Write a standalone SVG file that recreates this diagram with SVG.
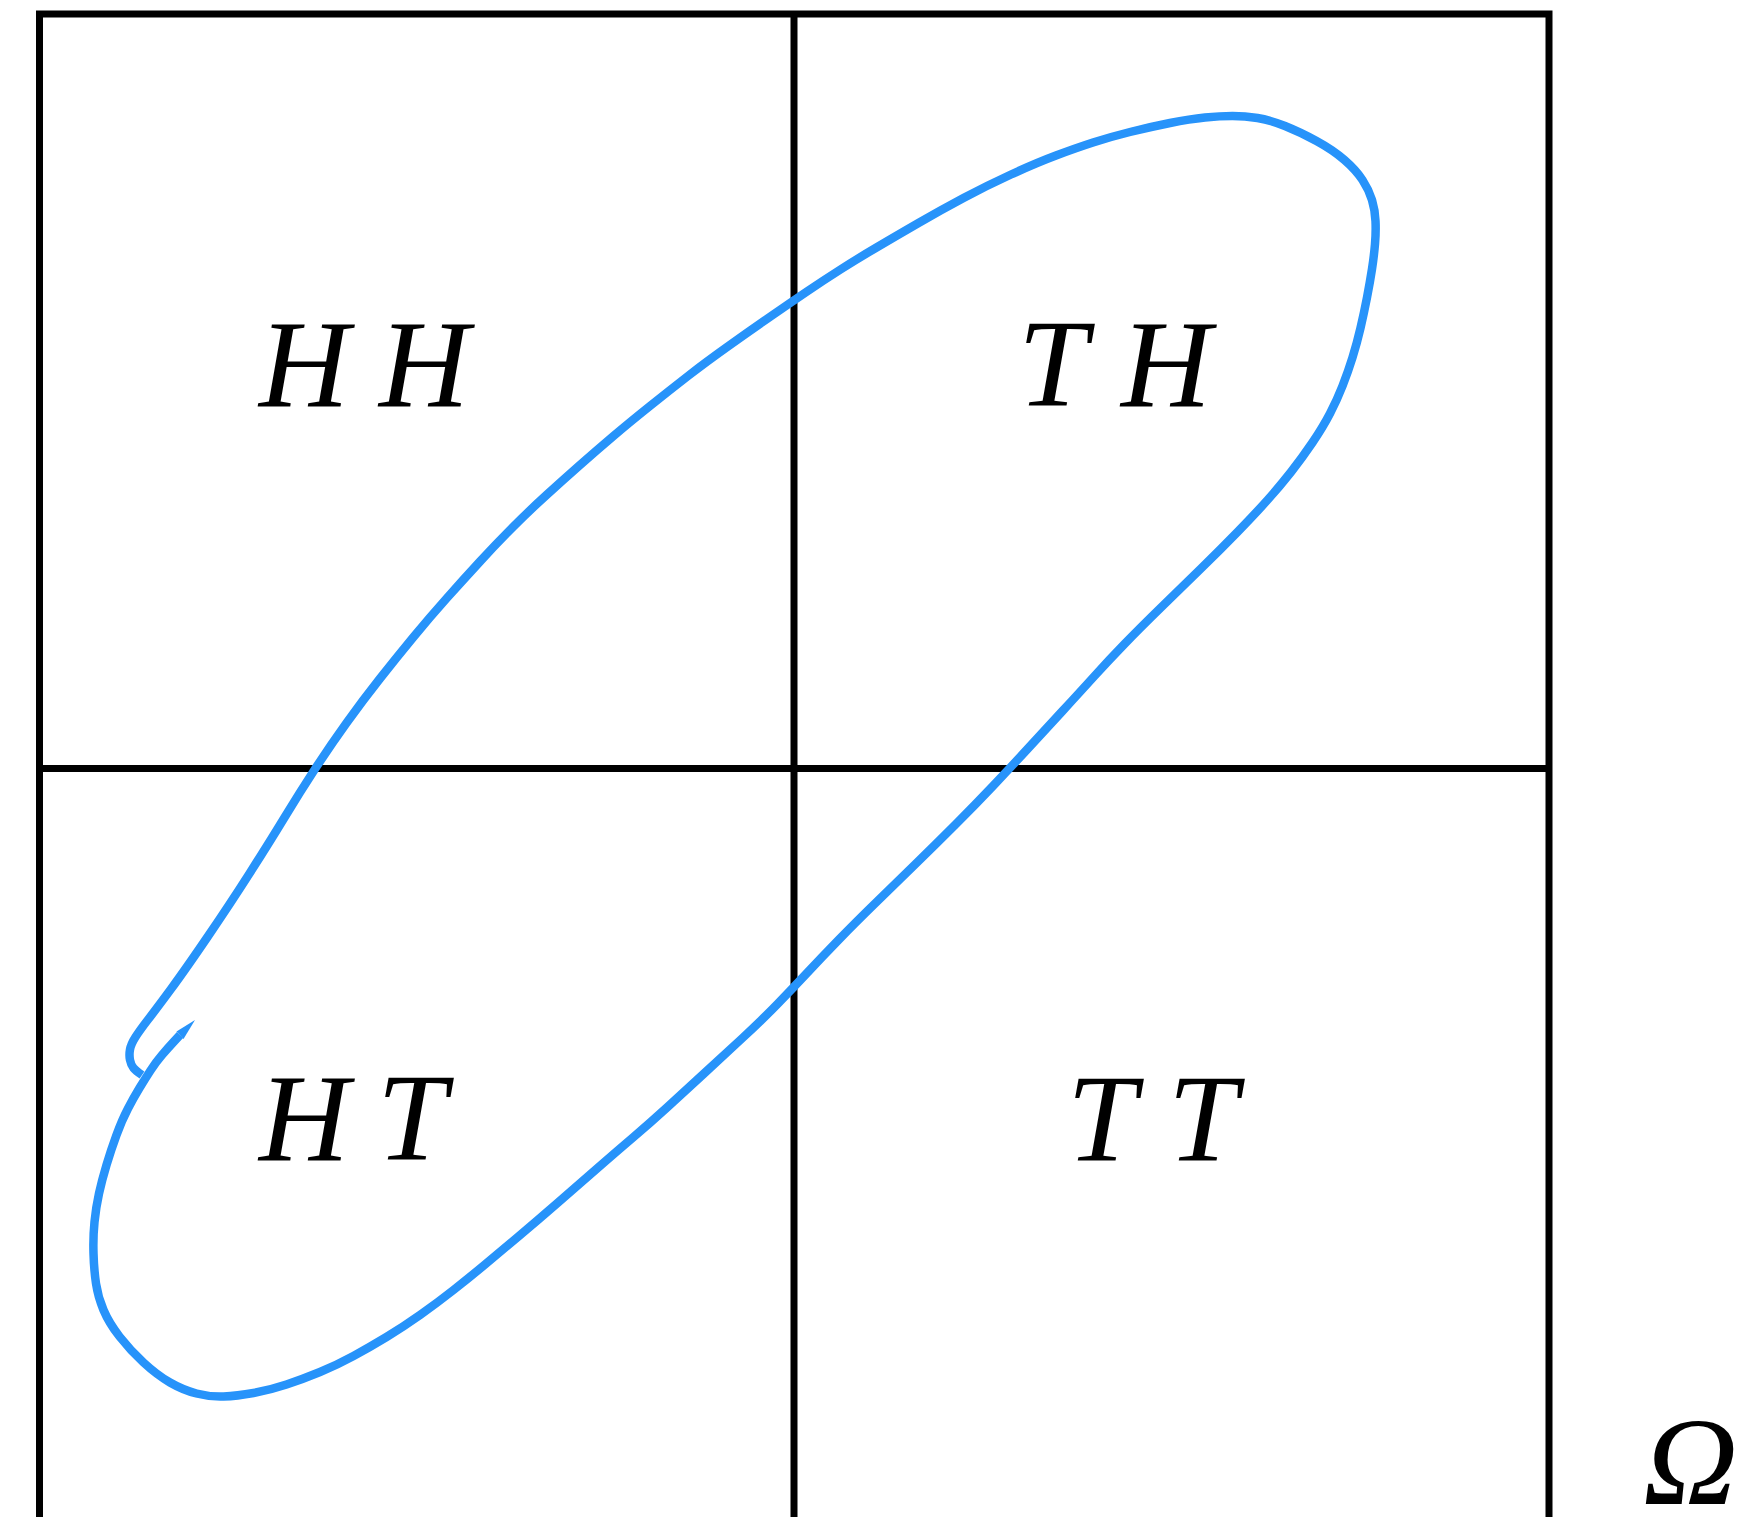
<svg xmlns="http://www.w3.org/2000/svg" width="1757" height="1517" viewBox="0 0 1757 1517">
<style>
.grid{stroke:#000;stroke-width:7;fill:none;stroke-linecap:butt}
.lbl{font-family:"Liberation Serif","Times New Roman",serif;font-style:italic;font-size:125px;fill:#000}
.curve{stroke:#2793FA;stroke-width:8.5;fill:none;stroke-linejoin:round;stroke-linecap:butt}
</style>
<rect width="1757" height="1517" fill="#fff"/>
<g id="grid">
<path class="grid" d="M39.5,1517 V14 H1549 V1517 M794,14 V1517 M39.5,768.5 H1549"/>
</g>
<g id="cell-HH"><text class="lbl" y="406"><tspan x="259">H</tspan><tspan x="379">H</tspan></text></g>
<g id="cell-TH"><text class="lbl" y="406"><tspan x="1018">T</tspan><tspan x="1121">H</tspan></text></g>
<g id="cell-HT"><text class="lbl" y="1160"><tspan x="259">H</tspan><tspan x="377">T</tspan></text></g>
<g id="cell-TT"><text class="lbl" y="1161"><tspan x="1067">T</tspan><tspan x="1168">T</tspan></text></g>
<g id="omega"><text class="lbl" x="1643" y="1504" textLength="95" lengthAdjust="spacingAndGlyphs">Ω</text></g>
<g id="connectors">
<polygon fill="#2793FA" points="195,1020 183.5,1039 176.5,1031.5"/>
<path class="curve" d="M180,1035 L174,1041.5 Q168,1048 162,1055 Q156,1062 150.5,1070.5 Q145,1079 139.5,1088 Q134,1097 128,1108.5 Q122,1120 116.5,1135 Q111,1150 106.5,1165 Q102,1180 99,1193.5 Q96,1207 94.5,1222 Q93,1237 93.5,1253.5 Q94,1270 96,1283.5 Q98,1297 103.5,1310 Q109,1323 119.5,1336.5 Q130,1350 143.5,1362.5 Q157,1375 170,1382.5 Q183,1390 196.5,1393.5 Q210,1397 223.5,1396.5 Q237,1396 253.5,1393 Q270,1390 286.5,1384.5 Q303,1379 320,1372 Q337,1365 353.5,1356 Q370,1347 386.5,1337 Q403,1327 420,1315 Q437,1303 453.5,1290 Q470,1277 485,1264.5 Q500,1252 519,1236 Q538,1220 557.5,1203 Q577,1186 596.5,1169 Q616,1152 633,1137.5 Q650,1123 667,1107.5 Q684,1092 703.5,1074 Q723,1056 742.5,1038 Q762,1020 777.5,1004 Q793,988 807.5,972.5 Q822,957 838.5,940 Q855,923 875,903.5 Q895,884 915,864.5 Q935,845 955,825 Q975,805 992.5,786.5 Q1010,768 1027.5,749 Q1045,730 1062.5,711 Q1080,692 1094.5,676 Q1109,660 1124.5,644 Q1140,628 1161,607.5 Q1182,587 1201,568.5 Q1220,550 1237.5,532 Q1255,514 1267.5,500 Q1280,486 1291,472 Q1302,458 1312.5,442.5 Q1323,427 1330,413.5 Q1337,400 1342.5,386 Q1348,372 1352.5,357.5 Q1357,343 1360.5,328 Q1364,313 1367,297.5 Q1370,282 1372,269 Q1374,256 1375,244 Q1376,232 1375.5,221 Q1375,210 1372,200 Q1369,190 1362.5,180 Q1356,170 1344.5,160 Q1333,150 1316.5,141 Q1300,132 1285,126 Q1270,120 1257.5,118 Q1245,116 1232.5,116 Q1220,116 1205,117.5 Q1190,119 1170,123 Q1150,127 1130,132 Q1110,137 1093,142.5 Q1076,148 1056,155.5 Q1036,163 1011,174.5 Q986,186 963.5,198 Q941,210 918.5,223 Q896,236 876.5,247.5 Q857,259 840.5,269.5 Q824,280 807,291.5 Q790,303 770.5,316.5 Q751,330 728.5,346 Q706,362 688,376 Q670,390 650,406 Q630,422 613.5,436 Q597,450 580,465 Q563,480 546.5,495 Q530,510 513.5,526.5 Q497,543 480,561.5 Q463,580 446.5,598.5 Q430,617 413.5,637 Q397,657 380,678.5 Q363,700 346.5,723 Q330,746 315,769 Q300,792 284.5,817.5 Q269,843 249.5,873.5 Q230,904 207.5,937 Q185,970 171,989 Q157,1008 148.5,1019 Q140,1030 135.5,1037 Q131,1044 130,1049.5 Q129,1055 130,1060 Q131,1065 133.5,1068 Q136,1071 142,1075"/>
</g>
</svg>
